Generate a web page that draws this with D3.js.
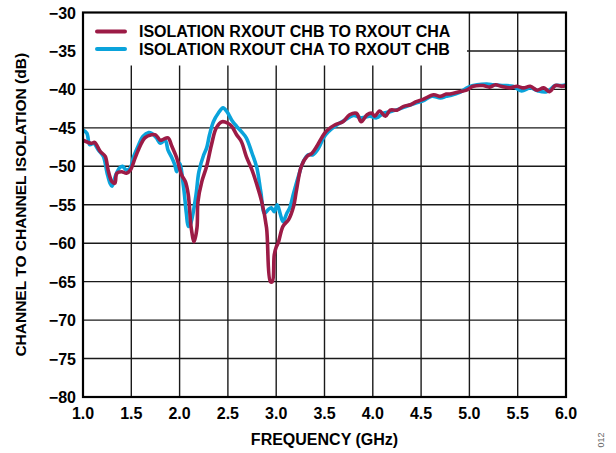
<!DOCTYPE html>
<html><head><meta charset="utf-8">
<script src="https://cdn.jsdelivr.net/npm/d3@7"></script>
<style>
body{margin:0;background:#fff;}
svg{display:block;}
text{font-family:"Liberation Sans",Arial,sans-serif;font-weight:bold;fill:#000;}
</style></head><body>
<svg id="chart" width="616" height="453"></svg>
<script>
const xTicks = [1.0,1.5,2.0,2.5,3.0,3.5,4.0,4.5,5.0,5.5,6.0];
const yTicks = [-30,-35,-40,-45,-50,-55,-60,-65,-70,-75,-80];
const seriesNames = ["ISOLATION RXOUT CHB TO RXOUT CHA","ISOLATION RXOUT CHA TO RXOUT CHB"];

// CHB -> CHA (red)
const redFreq = [1.0,1.09,1.12,1.18,1.23,1.26,1.30,1.33,1.35,1.40,1.45,1.49,1.54,1.59,1.64,1.71,1.75,1.80,1.83,1.88,1.92,1.97,2.02,2.06,2.09,2.12,2.15,2.18,2.19,2.23,2.28,2.33,2.38,2.44,2.50,2.54,2.59,2.64,2.69,2.75,2.80,2.85,2.90,2.94,2.96,2.98,3.00,3.02,3.07,3.13,3.18,3.21,3.26,3.32,3.37,3.42,3.47,3.52,3.61,3.69,3.76,3.83,3.88,3.94,3.99,4.02,4.07,4.13,4.18,4.25,4.32,4.39,4.45,4.52,4.63,4.70,4.76,4.80,4.90,4.97,5.04,5.14,5.21,5.27,5.33,5.42,5.49,5.56,5.63,5.70,5.77,5.83,5.89,5.96,6.0];
const redDb = [-46.6,-47.0,-46.9,-48.1,-48.7,-50.5,-52.0,-52.2,-50.9,-50.7,-50.9,-50.5,-48.9,-47.4,-46.3,-45.9,-45.9,-46.6,-46.5,-46.3,-47.4,-48.9,-51.1,-52.0,-53.7,-58.0,-59.8,-58.0,-54.6,-52.0,-50.0,-47.2,-45.0,-44.2,-44.4,-44.8,-45.9,-46.8,-48.7,-50.5,-52.4,-54.6,-58.0,-65.0,-65.0,-61.5,-60.5,-60.0,-57.8,-56.9,-55.2,-53.1,-50.0,-48.7,-48.3,-47.4,-46.3,-45.4,-44.6,-44.2,-43.3,-43.1,-44.2,-43.3,-43.1,-43.5,-42.8,-43.5,-42.7,-42.7,-42.2,-42.0,-41.6,-41.3,-40.7,-40.9,-40.6,-40.6,-40.3,-40.1,-39.6,-39.5,-39.7,-39.4,-39.6,-39.8,-39.6,-39.8,-39.6,-40.1,-39.8,-40.3,-39.5,-39.6,-39.5];

// CHA -> CHB (blue)
const blueFreq = [1.0,1.04,1.07,1.11,1.16,1.21,1.25,1.28,1.30,1.34,1.38,1.41,1.45,1.49,1.52,1.57,1.62,1.68,1.71,1.76,1.80,1.85,1.88,1.92,1.95,1.97,2.00,2.04,2.07,2.09,2.11,2.13,2.17,2.20,2.25,2.28,2.31,2.35,2.40,2.45,2.49,2.54,2.59,2.64,2.69,2.75,2.80,2.84,2.88,2.92,2.95,2.98,3.01,3.04,3.07,3.11,3.14,3.18,3.23,3.28,3.33,3.38,3.44,3.49,3.54,3.63,3.71,3.80,3.88,3.97,4.04,4.11,4.18,4.26,4.35,4.44,4.52,4.61,4.70,4.76,4.80,4.90,4.99,5.08,5.18,5.25,5.35,5.45,5.54,5.63,5.71,5.80,5.89,5.96,6.0];
const blueDb = [-45.3,-45.7,-47.2,-47.0,-47.9,-48.7,-50.9,-52.2,-52.6,-51.1,-50.2,-50.0,-50.5,-50.2,-48.9,-47.4,-46.1,-45.6,-45.7,-46.3,-47.0,-46.6,-47.9,-48.9,-49.8,-50.7,-49.6,-52.6,-56.1,-57.8,-57.6,-56.7,-53.7,-50.7,-48.5,-47.6,-45.9,-44.2,-43.1,-42.4,-42.9,-44.0,-44.8,-45.5,-46.3,-48.3,-50.2,-53.3,-56.1,-55.6,-55.4,-55.9,-55.0,-56.1,-57.2,-56.1,-55.4,-53.5,-51.3,-49.4,-48.5,-48.5,-47.6,-46.3,-45.5,-44.6,-44.0,-43.4,-43.7,-43.5,-43.7,-43.1,-42.9,-42.6,-42.2,-41.8,-41.5,-40.9,-41.1,-40.9,-40.8,-40.4,-39.7,-39.4,-39.3,-39.4,-39.5,-39.6,-40.2,-39.8,-40.2,-40.3,-39.5,-39.5,-39.4];

const svg = d3.select("#chart");
const L = 83, R = 566, T = 12.5, B = 397;
const x = d3.scaleLinear().domain([1,6]).range([L,R]);
const y = d3.scaleLinear().domain([-80,-30]).range([B,T]);

const grid = svg.append("g");
grid.selectAll("line.v").data(xTicks.slice(1,-1)).join("line")
  .attr("x1",d=>x(d)).attr("x2",d=>x(d)).attr("y1",T).attr("y2",B)
  .attr("stroke","#1a1a1a").attr("stroke-width",1.4);
grid.selectAll("line.h").data(yTicks.slice(1,-1)).join("line")
  .attr("x1",L).attr("x2",R).attr("y1",d=>y(d)).attr("y2",d=>y(d))
  .attr("stroke","#1a1a1a").attr("stroke-width",1.4);

// legend background box
svg.append("rect").attr("x",L).attr("y",T).attr("width",384).attr("height",53).attr("fill","#fff");

// axes labels
svg.append("g").selectAll("text").data(yTicks).join("text")
  .attr("x",76).attr("y",d=>y(d)+6).attr("text-anchor","end")
  .attr("font-size",16).text(d=>d3.format("")(d).replace("-","\u2013"));
svg.append("g").selectAll("text").data(xTicks).join("text")
  .attr("x",d=>x(d)).attr("y",419).attr("text-anchor","middle")
  .attr("font-size",16).text(d=>d.toFixed(1));

svg.append("text").attr("x",x(3.5)).attr("y",445).attr("text-anchor","middle")
  .attr("font-size",16).text("FREQUENCY (GHz)");
svg.append("text").attr("transform",`translate(26,${(T+B)/2}) rotate(-90)`)
  .attr("text-anchor","middle").attr("font-size",15.5).text("CHANNEL TO CHANNEL ISOLATION (dB)");
svg.append("text").attr("transform","translate(604,440) rotate(-90)")
  .attr("text-anchor","middle").attr("font-size",9).style("font-weight","normal").style("fill","#666").text("012");

// data lines
const clip = svg.append("clipPath").attr("id","clp").append("rect").attr("x",L).attr("y",T).attr("width",R-L).attr("height",B-T);
const line = d3.line().x(d=>x(d[0])).y(d=>y(d[1])).curve(d3.curveCatmullRom.alpha(0.5));
const blueData = blueFreq.map((f,i)=>[f,blueDb[i]]);
const redData = redFreq.map((f,i)=>[f,redDb[i]]);
svg.append("path").attr("d",line(blueData)).attr("fill","none").attr("stroke","#0aa3db").attr("stroke-width",3.6).attr("stroke-linejoin","round").attr("clip-path","url(#clp)");
svg.append("path").attr("d",line(redData)).attr("fill","none").attr("stroke","#9c1b46").attr("stroke-width",3.6).attr("stroke-linejoin","round").attr("clip-path","url(#clp)");

// frame
svg.append("rect").attr("x",L).attr("y",T).attr("width",R-L).attr("height",B-T)
  .attr("fill","none").attr("stroke","#000").attr("stroke-width",2.2);

// legend
const leg = svg.append("g");
const legColors = ["#9c1b46","#0aa3db"];
seriesNames.forEach((n,i)=>{
  const ly = 31.5 + i*17.5;
  leg.append("line").attr("x1",97).attr("x2",125).attr("y1",ly).attr("y2",ly)
    .attr("stroke",legColors[i]).attr("stroke-width",4).attr("stroke-linecap","round");
  leg.append("text").attr("x",139).attr("y",ly+5.7).attr("font-size",16).text(n);
});
</script></body></html>
